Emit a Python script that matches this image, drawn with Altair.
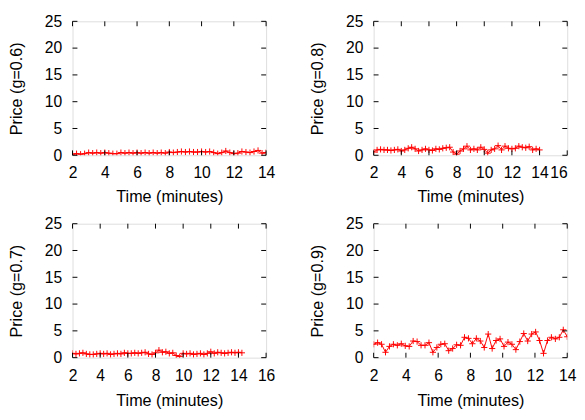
import altair as alt
import numpy as np
import pandas as pd

# ---------------- data ----------------
Y_TICKS = [0, 5, 10, 15, 20, 25]

# g = 0.6  (t = 2 .. 14 every 0.25 min)
T_06 = list(np.round(np.arange(2.0, 14.001, 0.25), 3))
P_06 = [0.2, 0.3, 0.2, 0.3, 0.5, 0.4, 0.5, 0.4, 0.5, 0.4, 0.3, 0.3, 0.5, 0.4, 0.5, 0.4,
        0.5, 0.4, 0.5, 0.4, 0.5, 0.4, 0.5, 0.4, 0.6, 0.5, 0.6, 0.7, 0.6, 0.7, 0.6, 0.6,
        0.7, 0.6, 0.7, 0.5, 0.3, 0.5, 0.8, 0.5, 0.3, 0.4, 0.7, 0.6, 0.5, 0.7, 0.9, 0.4, 0.5]

# g = 0.8  (t = 2 .. 14 every 0.25 min)
T_08 = list(np.round(np.arange(2.0, 14.001, 0.25), 3))
P_08 = [0.6, 1.0, 1.1, 1.0, 1.0, 0.9, 1.0, 1.1, 0.8, 1.0, 1.3, 1.5, 1.2, 0.8, 1.0, 1.2,
        1.0, 0.9, 1.2, 1.1, 1.3, 1.4, 1.5, 0.6, 0.2, 0.8, 1.2, 1.7, 1.0, 1.2, 1.0, 1.5,
        1.1, 0.4, 1.0, 1.2, 1.8, 1.0, 1.7, 1.3, 1.2, 1.3, 1.7, 1.5, 1.4, 1.6, 1.0, 1.2, 1.0]

# g = 0.7  (t = 2 .. 14.25 every 0.25 min)
T_07 = list(np.round(np.arange(2.0, 14.251, 0.25), 3))
P_07 = [0.8, 0.7, 0.8, 0.9, 0.7, 0.6, 0.6, 0.7, 0.8, 0.7, 0.8, 0.6, 0.7, 0.8, 0.7, 0.9,
        0.8, 0.8, 0.9, 0.8, 0.9, 1.0, 0.7, 0.6, 0.9, 1.4, 1.0, 1.1, 0.8, 0.9, 0.4, 0.2,
        0.8, 0.7, 0.8, 0.6, 0.7, 0.8, 0.6, 0.8, 1.1, 0.8, 1.0, 0.9, 0.8, 0.9, 1.0, 0.9,
        1.0, 0.9]

# g = 0.9  (50 samples from t = 2 to t = 14)
T_09 = list(np.round(np.linspace(2.0, 14.0, 50), 3))
P_09 = [2.5, 2.8, 2.5, 1.0, 2.1, 2.5, 2.3, 2.6, 2.2, 2.1, 3.1, 3.0, 2.3, 2.3, 2.8, 1.0,
        1.9, 2.5, 2.6, 1.3, 1.7, 2.4, 2.3, 3.8, 3.6, 2.6, 3.6, 3.1, 1.9, 4.4, 1.7, 3.2,
        3.5, 2.1, 2.9, 2.5, 1.5, 3.0, 4.5, 3.1, 4.4, 4.8, 3.2, 0.8, 3.2, 3.8, 3.5, 3.8,
        5.2, 3.9]

# ---------------- styling ----------------
W, H = 198, 137
FONT = "Liberation Sans"
FS = 16
TFS = 16.5
RED = "#ff0000"
TICK = 5
PLUS = "M-1,0L1,0M0,-1L0,1"


def panel(times, prices, ylabel, xmax, title_pad, flush_last=False):
    df = pd.DataFrame({"time": times, "price": prices})
    xticks = list(range(2, xmax + 1, 2))
    xs = alt.Scale(domain=[2, xmax], nice=False, zero=False)
    ys = alt.Scale(domain=[0, 25], nice=False, zero=False)
    label_align = "center"
    if flush_last:
        label_align = {"condition": {"test": f"datum.value == {xmax}", "value": "right"},
                       "value": "center"}
    xaxis = alt.Axis(values=xticks, title="Time (minutes)", grid=False, domain=False,
                     ticks=False, tickSize=0, labelPadding=10, titlePadding=title_pad,
                     labelFont=FONT, labelFontSize=FS, titleFont=FONT,
                     titleFontSize=TFS, titleFontWeight="normal", labelColor="black",
                     titleColor="black", labelFlush=False, labelOverlap=False,
                     labelAlign=label_align)
    yaxis = alt.Axis(values=Y_TICKS, title=ylabel, grid=False, domain=False,
                     ticks=False, tickSize=0, labelPadding=11, titlePadding=20,
                     labelFont=FONT, labelFontSize=FS, titleFont=FONT,
                     titleFontSize=TFS, titleFontWeight="normal", labelColor="black",
                     titleColor="black", labelOverlap=False)
    enc_x = alt.X("time:Q", scale=xs, axis=xaxis)
    enc_y = alt.Y("price:Q", scale=ys, axis=yaxis)

    line = alt.Chart(df).mark_line(color=RED, strokeWidth=1, clip=True).encode(x=enc_x, y=enc_y)
    pts = alt.Chart(df).mark_point(shape=PLUS, filled=False, color=RED, size=40,
                                   strokeWidth=1, opacity=1, clip=True).encode(x=enc_x, y=enc_y)

    ydf = pd.DataFrame({"price": Y_TICKS})
    xdf = pd.DataFrame({"time": xticks})
    yl = alt.Chart(ydf).mark_rule(color="black", strokeWidth=1).encode(
        y=enc_y, x=alt.value(0), x2=alt.value(TICK))
    yr = alt.Chart(ydf).mark_rule(color="black", strokeWidth=1).encode(
        y=enc_y, x=alt.value(W - TICK), x2=alt.value(W))
    xb = alt.Chart(xdf).mark_rule(color="black", strokeWidth=1).encode(
        x=enc_x, y=alt.value(H - TICK), y2=alt.value(H))
    xt = alt.Chart(xdf).mark_rule(color="black", strokeWidth=1).encode(
        x=enc_x, y=alt.value(0), y2=alt.value(TICK))

    return alt.layer(line, pts, yl, yr, xb, xt).properties(width=W, height=H)


tl = panel(T_06, P_06, "Price (g=0.6)", 14, 8)
tr = panel(T_08, P_08, "Price (g=0.8)", 16, 8, flush_last=True)
bl = panel(T_07, P_07, "Price (g=0.7)", 16, 10)
br = panel(T_09, P_09, "Price (g=0.9)", 14, 10)

top = alt.hconcat(tl, tr, spacing=34)
bottom = alt.hconcat(bl, br, spacing=34)
chart = alt.vconcat(top, bottom, spacing=10).properties(
    padding={"left": 0, "top": 0, "right": 0, "bottom": 0}
).configure_view(stroke="black", strokeWidth=1).configure(background="white")

chart.save("out.html", embed_options={"renderer": "svg", "actions": False})
